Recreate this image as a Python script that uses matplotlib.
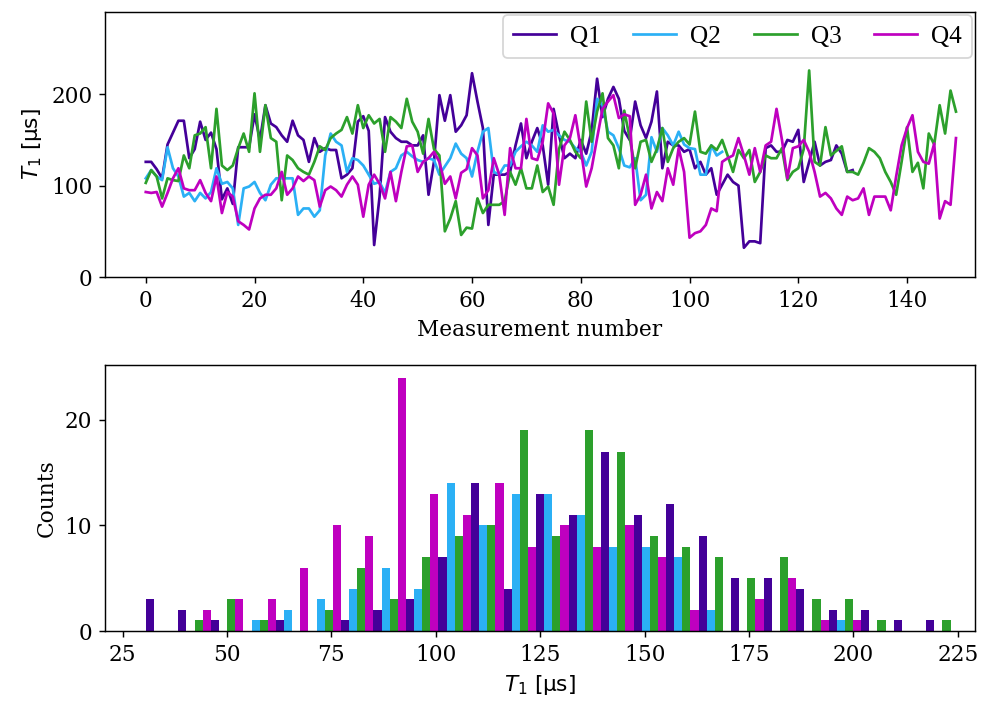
import numpy as np
import matplotlib
matplotlib.use("Agg")
import matplotlib.pyplot as plt

plt.rcParams['font.family'] = ['DejaVu Serif']
plt.rcParams['font.size'] = 12

# ---- time series T1 (µs) per measurement ----
q1 = [126, 126, 118, 108, 145, 158, 171, 171, 130, 140, 170, 150, 158, 140, 85, 97, 80, 142, 142, 142,
      178, 150, 188, 168, 164, 155, 148, 171, 155, 150, 126, 152, 137, 141, 139, 139, 108, 112, 119, 170,
      176, 160, 35, 88, 175, 159, 152, 148, 148, 144, 144, 155, 90, 126, 199, 171, 199, 159, 166, 177,
      223, 192, 163, 57, 112, 112, 112, 115, 144, 168, 130, 148, 163, 144, 101, 184, 155, 130, 135, 130,
      150, 135, 160, 217, 175, 195, 208, 195, 160, 150, 192, 166, 152, 170, 203, 119, 148, 144, 144, 137,
      140, 119, 126, 112, 119, 90, 101, 112, 104, 100, 32, 39, 39, 37, 141, 144, 137, 137, 150, 148,
      161, 104, 126, 148, 122, 126, 128, 144, 135, 115, 117]
q2 = [108, 117, 110, 106, 142, 119, 110, 88, 92, 83, 92, 86, 93, 119, 102, 104, 97, 57, 97, 99,
      104, 92, 84, 101, 108, 108, 108, 108, 68, 75, 75, 66, 73, 133, 157, 148, 144, 115, 130, 128,
      122, 112, 102, 104, 92, 115, 119, 133, 137, 132, 128, 126, 130, 128, 112, 121, 130, 146, 135, 130,
      110, 137, 159, 163, 115, 112, 122, 122, 137, 143, 148, 144, 137, 166, 159, 161, 155, 150, 148, 141,
      137, 122, 137, 195, 188, 159, 155, 141, 122, 120, 130, 84, 90, 153, 137, 163, 155, 144, 159, 145,
      141, 140, 112, 112, 144, 133, 137]
q3 = [103, 117, 110, 86, 108, 106, 105, 133, 119, 155, 157, 164, 119, 184, 122, 117, 122, 141, 157, 137,
      201, 137, 188, 152, 148, 84, 133, 128, 119, 115, 112, 126, 143, 139, 152, 157, 161, 175, 157, 188,
      163, 177, 168, 173, 137, 175, 170, 163, 195, 170, 159, 135, 173, 140, 133, 50, 64, 83, 46, 54,
      53, 86, 70, 79, 79, 79, 83, 115, 101, 119, 97, 97, 122, 93, 99, 79, 140, 159, 150, 137,
      130, 192, 148, 181, 201, 152, 144, 119, 182, 152, 119, 148, 150, 126, 140, 163, 126, 141, 148, 152,
      145, 181, 137, 135, 144, 139, 150, 133, 115, 139, 130, 139, 104, 115, 133, 130, 130, 141, 106, 115,
      119, 140, 226, 126, 122, 164, 133, 138, 143, 115, 115, 112, 125, 141, 137, 130, 115, 104, 90, 126,
      164, 115, 125, 97, 157, 145, 188, 157, 204, 181]
q4 = [93, 92, 93, 77, 92, 108, 119, 97, 95, 95, 106, 92, 83, 110, 70, 93, 88, 61, 57, 52,
      75, 86, 90, 90, 97, 115, 90, 97, 110, 105, 110, 106, 77, 95, 99, 95, 88, 101, 110, 101,
      66, 101, 112, 102, 86, 115, 83, 115, 143, 144, 115, 126, 130, 137, 126, 102, 110, 86, 114, 118,
      141, 133, 86, 95, 130, 112, 68, 141, 119, 119, 173, 130, 128, 148, 190, 179, 101, 144, 152, 177,
      140, 99, 119, 152, 184, 192, 199, 174, 178, 176, 79, 90, 112, 75, 93, 83, 119, 101, 141, 115,
      43, 48, 50, 57, 75, 72, 126, 130, 133, 152, 133, 112, 141, 115, 144, 148, 184, 150, 108, 141,
      143, 150, 137, 115, 88, 92, 86, 75, 68, 88, 84, 86, 97, 68, 88, 88, 88, 73, 110, 144,
      163, 177, 137, 126, 124, 146, 64, 83, 79, 152]

# ---- histogram (25 bins from min to max of all T1 values) ----
bin_lo, bin_hi, n_bins = 30.58, 225.2, 25
counts_q1 = [3, 2, 1, 0, 1, 0, 1, 2, 3, 7, 14, 4, 13, 11, 17, 11, 12, 9, 5, 5, 4, 2, 2, 1, 1]
counts_q2 = [0, 0, 0, 1, 2, 3, 4, 6, 4, 14, 10, 13, 13, 11, 8, 8, 7, 2, 0, 0, 0, 1, 0, 0, 0]
counts_q3 = [0, 1, 3, 1, 0, 2, 6, 3, 7, 9, 10, 19, 9, 19, 17, 9, 8, 7, 5, 7, 3, 3, 1, 0, 1]
counts_q4 = [0, 2, 3, 3, 6, 10, 9, 24, 13, 11, 14, 8, 10, 8, 10, 7, 2, 0, 3, 5, 1, 1, 0, 0, 0]

labels = ['Q1', 'Q2', 'Q3', 'Q4']
colors = ['#440099', '#2bb0f5', '#2ca02c', '#bf00bf']

fig = plt.figure(figsize=(990 / 130, 701 / 130), dpi=130)
ax1 = fig.add_axes([105 / 990, 1 - 277 / 701, 870 / 990, 265 / 701])
ax2 = fig.add_axes([105 / 990, 1 - 631 / 701, 870 / 990, 266 / 701])

for series, lab, col in zip([q1, q2, q3, q4], labels, colors):
    ax1.plot(np.arange(len(series)), series, color=col, lw=1.5, label=lab)
ax1.set_xlim(-7.5, 152.5)
ax1.set_ylim(0, 290)
ax1.set_xticks(np.arange(0, 141, 20))
ax1.set_yticks([0, 100, 200])
ax1.set_xlabel('Measurement number')
ax1.set_ylabel('$T_1$ [µs]', family='DejaVu Sans')
ax1.legend(loc='upper right', ncol=4, prop={'family': 'Liberation Serif', 'size': 14},
           handlelength=1.7, handletextpad=0.55, columnspacing=1.3, borderaxespad=0.12)

edges = np.linspace(bin_lo, bin_hi, n_bins + 1)
centers = 0.5 * (edges[:-1] + edges[1:])
ax2.hist([centers] * 4, bins=edges,
         weights=[counts_q1, counts_q2, counts_q3, counts_q4],
         color=colors, rwidth=1.0, label=labels)
ax2.set_xlim(20.8, 229.1)
ax2.set_xticks(np.arange(25, 226, 25))
ax2.set_yticks([0, 10, 20])
ax2.set_xlabel('$T_1$ [µs]', family='DejaVu Sans')
ax2.set_ylabel('Counts')

fig.savefig('out.png', dpi=130)
